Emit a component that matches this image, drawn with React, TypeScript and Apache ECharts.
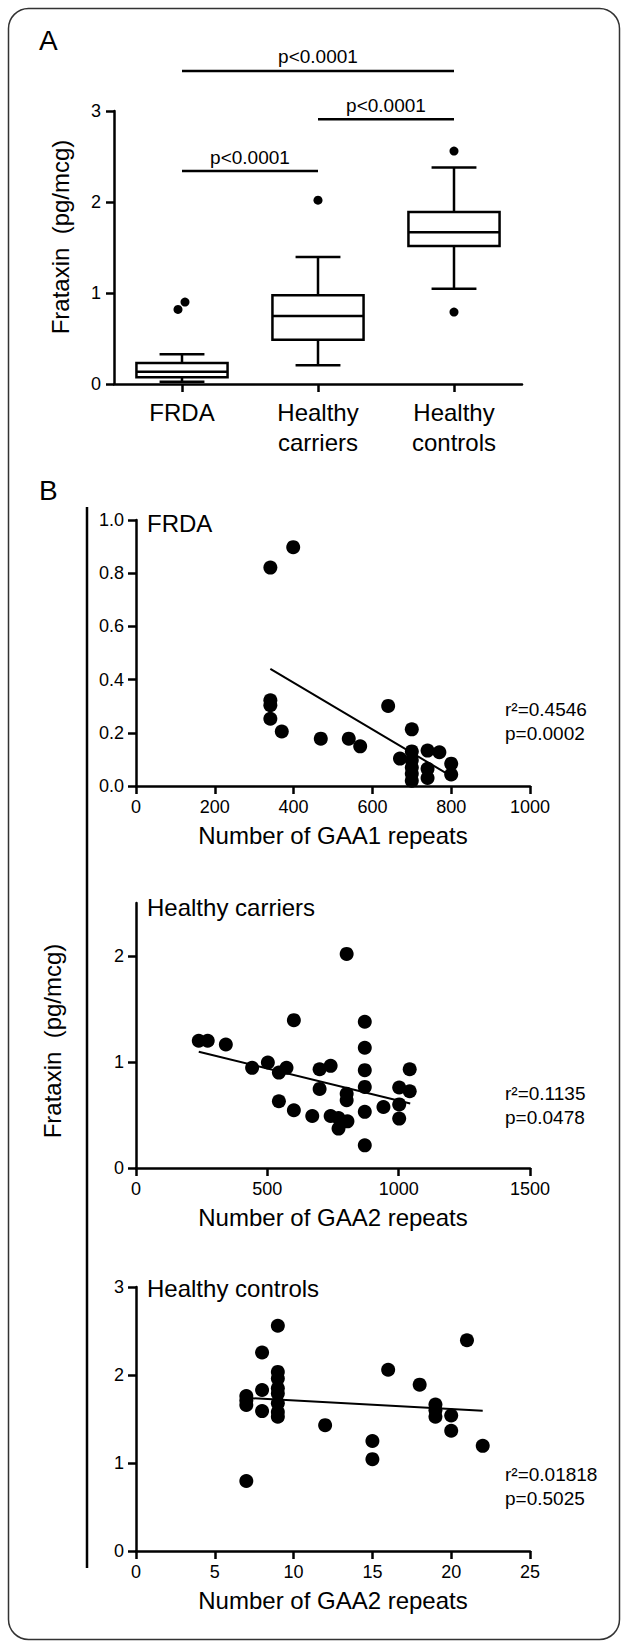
import React, { useEffect, useRef } from 'react';
import * as echarts from 'echarts';

// ---------- Panel A: box plots ----------
const groupCategories = ['FRDA', 'Healthy\ncarriers', 'Healthy\ncontrols'];
// [min, Q1, median, Q3, max]
const boxFRDA = [0.026, 0.073, 0.135, 0.23, 0.326];
const boxCarriers = [0.205, 0.487, 0.747, 0.974, 1.396];
const boxControls = [1.048, 1.516, 1.667, 1.89, 2.38];
const outlierGroup = [0, 0, 1, 2, 2];
const outlierValues = [0.82, 0.9, 2.02, 2.56, 0.79];
// significance comparisons: from group, to group, height (pg/mcg)
const compFrom = [0, 1, 0];
const compTo = [2, 2, 1];
const compHeight = [3.44, 2.91, 2.34];
const compLabel = ['p<0.0001', 'p<0.0001', 'p<0.0001'];

// ---------- Panel B: scatter plots ----------
const frdaGAA1 = [341, 399, 341, 341, 341, 370, 469, 540, 569, 640, 670, 700, 700, 700, 700, 700, 700, 740, 740, 740, 770, 800, 800];
const frdaFxn = [0.821, 0.898, 0.322, 0.304, 0.253, 0.205, 0.178, 0.178, 0.149, 0.301, 0.103, 0.213, 0.13, 0.097, 0.07, 0.046, 0.02, 0.133, 0.065, 0.03, 0.127, 0.084, 0.043];
const frdaFit = [[341, 0.44], [800, 0.037]];

const carriersGAA2 = [239, 273, 342, 442, 502, 544, 573, 544, 601, 601, 671, 699, 741, 699, 741, 771, 771, 805, 802, 802, 802, 871, 871, 871, 871, 871, 871, 942, 1002, 1002, 1002, 1042, 1042];
const carriersFxn = [1.2, 1.2, 1.165, 0.945, 0.995, 0.9, 0.945, 0.63, 0.545, 1.395, 0.49, 0.932, 0.964, 0.746, 0.49, 0.472, 0.372, 0.44, 2.02, 0.7, 0.64, 1.38, 1.134, 0.923, 0.765, 0.53, 0.214, 0.576, 0.76, 0.6, 0.466, 0.932, 0.724];
const carriersFit = [[239, 1.096], [1044, 0.608]];

const controlsGAA2 = [7, 7, 7, 7, 8, 8, 8, 9, 9, 9, 9, 9, 9, 9, 9, 12, 15, 15, 16, 18, 19, 19, 19, 20, 20, 21, 22];
const controlsFxn = [0.795, 1.76, 1.71, 1.66, 2.255, 1.83, 1.59, 2.56, 2.035, 1.96, 1.85, 1.79, 1.68, 1.58, 1.525, 1.43, 1.25, 1.044, 2.06, 1.89, 1.665, 1.6, 1.525, 1.54, 1.366, 2.395, 1.195];
const controlsFit = [[7, 1.74], [22, 1.593]];

const panelTitles = ['FRDA', 'Healthy carriers', 'Healthy controls'];
const r2Values = ['0.4546', '0.1135', '0.01818'];
const pValues = ['0.0002', '0.0478', '0.5025'];

const FONT = '"Liberation Sans", Arial, Helvetica, sans-serif';
const BLACK = '#000';

function App() {
  const ref = useRef<HTMLDivElement>(null);

  useEffect(() => {
    if (!ref.current) return;
    const chart = echarts.init(ref.current, undefined, { renderer: 'svg' });

    const boxData = [boxFRDA, boxCarriers, boxControls].map((b, i) => [i, ...b]);
    const outlierData = outlierGroup.map((g, i) => {
      // side-by-side offset for outliers in the same group that would overlap
      let off = 0;
      outlierGroup.forEach((g2, j) => {
        if (j !== i && g2 === g && Math.abs(outlierValues[j] - outlierValues[i]) < 0.15) {
          off = outlierValues[i] < outlierValues[j] ? -4 : 3;
        }
      });
      return { value: [g, outlierValues[i]], symbolOffset: [off, 0] };
    });
    const compData = compFrom.map((f, i) => [f, compTo[i], compHeight[i]]);

    const axisLineStyle = { show: true, lineStyle: { color: BLACK, width: 2.5 } };
    const axisTickStyle = { show: true, inside: false, length: 8, lineStyle: { color: BLACK, width: 2.5 } };
    const tickLabel = { color: BLACK, fontSize: 18, fontFamily: FONT };

    const scatterXAxis = (grid: number, max: number, interval: number, name: string) => ({
      type: 'value',
      gridIndex: grid,
      min: 0,
      max,
      interval,
      name,
      nameLocation: 'middle',
      nameGap: 37,
      nameTextStyle: { color: BLACK, fontSize: 24, fontFamily: FONT },
      axisLine: axisLineStyle,
      axisTick: axisTickStyle,
      axisLabel: { ...tickLabel, margin: 12, formatter: (v: number) => String(v) },
      splitLine: { show: false },
    });

    const scatterYAxis = (grid: number, max: number, interval: number, ticks: number[], fmt?: (v: number) => string) => ({
      type: 'value',
      gridIndex: grid,
      min: 0,
      max,
      interval,
      axisLine: axisLineStyle,
      axisTick: { ...axisTickStyle, customValues: ticks },
      axisLabel: { ...tickLabel, margin: 12, customValues: ticks, formatter: (v: number) => (fmt ? fmt(v) : String(v)) },
      splitLine: { show: false },
    });

    const textG = (x: number, y: number, text: string, size: number) => ({
      type: 'text',
      x,
      y,
      style: {
        text,
        fontSize: size,
        fontFamily: FONT,
        fill: BLACK,
        align: 'left',
        verticalAlign: 'middle',
      },
    });

    const graphics: any[] = [
      {
        type: 'rect',
        shape: { x: 8.5, y: 8.5, width: 611, height: 1631, r: 20 },
        style: { fill: 'none', stroke: '#333', lineWidth: 1.5 },
        silent: true,
      },
      textG(39, 40, 'A', 28),
      textG(39, 490, 'B', 28),
      {
        type: 'text',
        x: 60,
        y: 237,
        rotation: Math.PI / 2,
        style: { text: 'Frataxin  (pg/mcg)', fontSize: 24, fontFamily: FONT, fill: BLACK, align: 'center', verticalAlign: 'middle' },
      },
      {
        type: 'text',
        x: 52,
        y: 1041,
        rotation: Math.PI / 2,
        style: { text: 'Frataxin  (pg/mcg)', fontSize: 24, fontFamily: FONT, fill: BLACK, align: 'center', verticalAlign: 'middle' },
      },
      {
        type: 'line',
        shape: { x1: 87, y1: 507, x2: 87, y2: 1568 },
        style: { stroke: BLACK, lineWidth: 2.5 },
      },
    ];
    const titleY = [523, 907, 1288];
    const statY = [709, 1093, 1474];
    panelTitles.forEach((t, i) => {
      graphics.push(textG(147, titleY[i], t, 24));
      graphics.push(textG(505, statY[i], 'r²=' + r2Values[i], 19));
      graphics.push(textG(505, statY[i] + 24, 'p=' + pValues[i], 19));
    });

    const dotStyle = { color: BLACK, opacity: 1 };

    const option: any = {
      animation: false,
      backgroundColor: '#fff',
      textStyle: { fontFamily: FONT },
      grid: [
        { left: 114, top: 111, width: 408, height: 273 },
        { left: 136, top: 520, width: 394, height: 266 },
        { left: 136, top: 903, width: 394, height: 265 },
        { left: 136, top: 1287, width: 394, height: 264 },
      ],
      xAxis: [
        {
          type: 'category',
          gridIndex: 0,
          data: groupCategories,
          axisLine: axisLineStyle,
          axisTick: { ...axisTickStyle, alignWithLabel: true },
          axisLabel: { color: BLACK, fontSize: 24, lineHeight: 30, margin: 13, interval: 0, fontFamily: FONT },
          splitLine: { show: false },
        },
        scatterXAxis(1, 1000, 200, 'Number of GAA1 repeats'),
        scatterXAxis(2, 1500, 500, 'Number of GAA2 repeats'),
        scatterXAxis(3, 25, 5, 'Number of GAA2 repeats'),
      ],
      yAxis: [
        {
          type: 'value',
          gridIndex: 0,
          min: 0,
          max: 3,
          interval: 1,
          axisLine: axisLineStyle,
          axisTick: axisTickStyle,
          axisLabel: { ...tickLabel, margin: 13 },
          splitLine: { show: false },
        },
        scatterYAxis(1, 1, 0.2, [0, 0.2, 0.4, 0.6, 0.8, 1.0], (v) => v.toFixed(1)),
        scatterYAxis(2, 2.5, 1, [0, 1, 2]),
        scatterYAxis(3, 3, 1, [0, 1, 2, 3]),
      ],
      graphic: graphics,
      series: [
        {
          type: 'custom',
          xAxisIndex: 0,
          yAxisIndex: 0,
          clip: false,
          data: boxData,
          renderItem: (params: any, api: any) => {
            const i = api.value(0);
            const band = api.size([1, 0])[0];
            const bw = band * 0.67;
            const cw = band * 0.33;
            const pMin = api.coord([i, api.value(1)]);
            const pQ1 = api.coord([i, api.value(2)]);
            const pMed = api.coord([i, api.value(3)]);
            const pQ3 = api.coord([i, api.value(4)]);
            const pMax = api.coord([i, api.value(5)]);
            const cx = pMed[0];
            const ls = { stroke: BLACK, lineWidth: 2.5, fill: 'none' };
            return {
              type: 'group',
              children: [
                { type: 'line', shape: { x1: cx, y1: pMin[1], x2: cx, y2: pQ1[1] }, style: ls },
                { type: 'line', shape: { x1: cx, y1: pQ3[1], x2: cx, y2: pMax[1] }, style: ls },
                { type: 'line', shape: { x1: cx - cw / 2, y1: pMin[1], x2: cx + cw / 2, y2: pMin[1] }, style: ls },
                { type: 'line', shape: { x1: cx - cw / 2, y1: pMax[1], x2: cx + cw / 2, y2: pMax[1] }, style: ls },
                {
                  type: 'rect',
                  shape: { x: cx - bw / 2, y: pQ3[1], width: bw, height: pQ1[1] - pQ3[1] },
                  style: { stroke: BLACK, lineWidth: 2.5, fill: '#fff' },
                },
                { type: 'line', shape: { x1: cx - bw / 2, y1: pMed[1], x2: cx + bw / 2, y2: pMed[1] }, style: ls },
              ],
            };
          },
          z: 2,
        },
        {
          type: 'scatter',
          xAxisIndex: 0,
          yAxisIndex: 0,
          data: outlierData,
          symbolSize: 9,
          itemStyle: dotStyle,
          z: 3,
        },
        {
          type: 'custom',
          xAxisIndex: 0,
          yAxisIndex: 0,
          clip: false,
          data: compData,
          renderItem: (params: any, api: any) => {
            const a = api.coord([api.value(0), api.value(2)]);
            const b = api.coord([api.value(1), api.value(2)]);
            return {
              type: 'group',
              children: [
                { type: 'line', shape: { x1: a[0], y1: a[1], x2: b[0], y2: b[1] }, style: { stroke: BLACK, lineWidth: 2.5 } },
                {
                  type: 'text',
                  x: (a[0] + b[0]) / 2,
                  y: a[1] - 4.5,
                  style: {
                    text: compLabel[params.dataIndex],
                    fontSize: 19,
                    fontFamily: FONT,
                    fill: BLACK,
                    align: 'center',
                    verticalAlign: 'bottom',
                  },
                },
              ],
            };
          },
        },
        {
          type: 'scatter',
          xAxisIndex: 1,
          yAxisIndex: 1,
          data: frdaGAA1.map((x, i) => [x, frdaFxn[i]]),
          symbolSize: 14,
          itemStyle: dotStyle,
        },
        {
          type: 'line',
          xAxisIndex: 1,
          yAxisIndex: 1,
          data: frdaFit,
          showSymbol: false,
          lineStyle: { color: BLACK, width: 2 },
        },
        {
          type: 'scatter',
          xAxisIndex: 2,
          yAxisIndex: 2,
          data: carriersGAA2.map((x, i) => [x, carriersFxn[i]]),
          symbolSize: 14,
          itemStyle: dotStyle,
        },
        {
          type: 'line',
          xAxisIndex: 2,
          yAxisIndex: 2,
          data: carriersFit,
          showSymbol: false,
          lineStyle: { color: BLACK, width: 2 },
        },
        {
          type: 'scatter',
          xAxisIndex: 3,
          yAxisIndex: 3,
          data: controlsGAA2.map((x, i) => [x, controlsFxn[i]]),
          symbolSize: 14,
          itemStyle: dotStyle,
        },
        {
          type: 'line',
          xAxisIndex: 3,
          yAxisIndex: 3,
          data: controlsFit,
          showSymbol: false,
          lineStyle: { color: BLACK, width: 2 },
        },
      ],
    };

    chart.setOption(option);
    return () => chart.dispose();
  }, []);

  return (
    <div
      ref={ref}
      style={{ position: 'absolute', left: 0, top: 0, width: 627, height: 1642, background: '#fff' }}
    />
  );
}

export default App;
